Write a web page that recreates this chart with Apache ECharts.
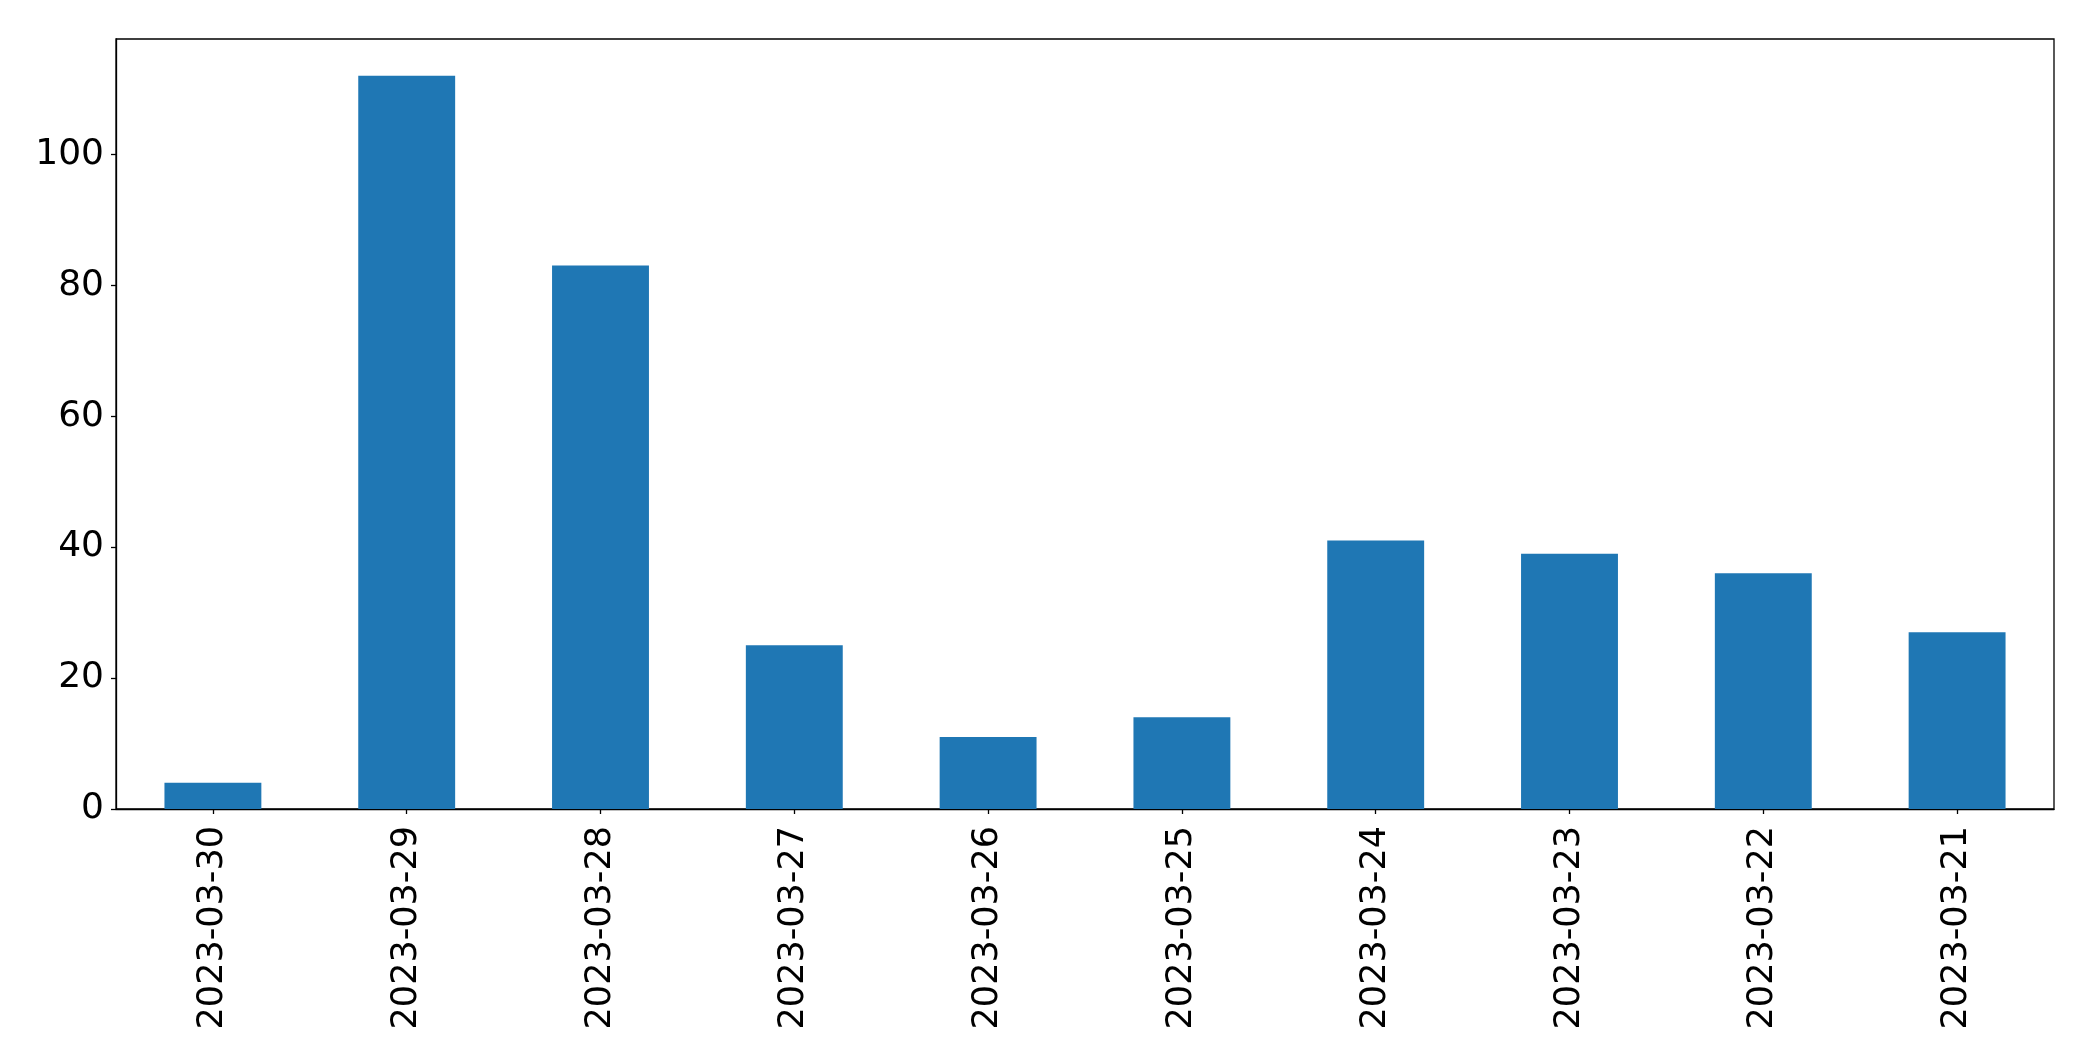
<!DOCTYPE html>
<html>
<head>
<meta charset="utf-8">
<script src="https://cdn.jsdelivr.net/npm/echarts@6/dist/echarts.min.js"></script>
<style>
html,body{margin:0;padding:0;background:#fff;}
#chart{width:2093px;height:1061px;}
</style>
</head>
<body>
<div id="chart"></div>
<script>
const categories = ["2023-03-30","2023-03-29","2023-03-28","2023-03-27","2023-03-26","2023-03-25","2023-03-24","2023-03-23","2023-03-22","2023-03-21"];
const counts = [4, 112, 83, 25, 11, 14, 41, 39, 36, 27];
const yTicks = [0, 20, 40, 60, 80, 100];

const chart = echarts.init(document.getElementById('chart'), null, {renderer: 'canvas'});
const fontFamily = 'DejaVu Sans';
chart.setOption({
  animation: false,
  backgroundColor: '#ffffff',
  grid: {
    left: 116, right: 39, top: 39, bottom: 252,
    show: true, borderColor: '#000', borderWidth: 1.3, backgroundColor: 'transparent'
  },
  xAxis: {
    type: 'category',
    data: categories,
    boundaryGap: true,
    axisLine: {show: true, lineStyle: {color: '#000', width: 1.3}},
    axisTick: {show: true, alignWithLabel: true, length: 5, lineStyle: {color: '#000', width: 1.3}},
    axisLabel: {rotate: 90, margin: 17, color: '#000', fontSize: 35, fontFamily: fontFamily, interval: 0},
    splitLine: {show: false}
  },
  yAxis: {
    type: 'value',
    min: 0,
    max: 117.6,
    interval: 20,
    axisLine: {show: true, lineStyle: {color: '#000', width: 1.3}},
    axisTick: {show: true, length: 5, lineStyle: {color: '#000', width: 1.3}, customValues: yTicks},
    axisLabel: {color: '#000', fontSize: 36, fontFamily: fontFamily, margin: 12, lineHeight: 36, padding: [10, 0, 0, 0], customValues: yTicks},
    splitLine: {show: false}
  },
  series: [{
    type: 'bar',
    data: counts,
    barWidth: '50%',
    itemStyle: {color: '#1f77b4'}
  }]
});
</script>
</body>
</html>
